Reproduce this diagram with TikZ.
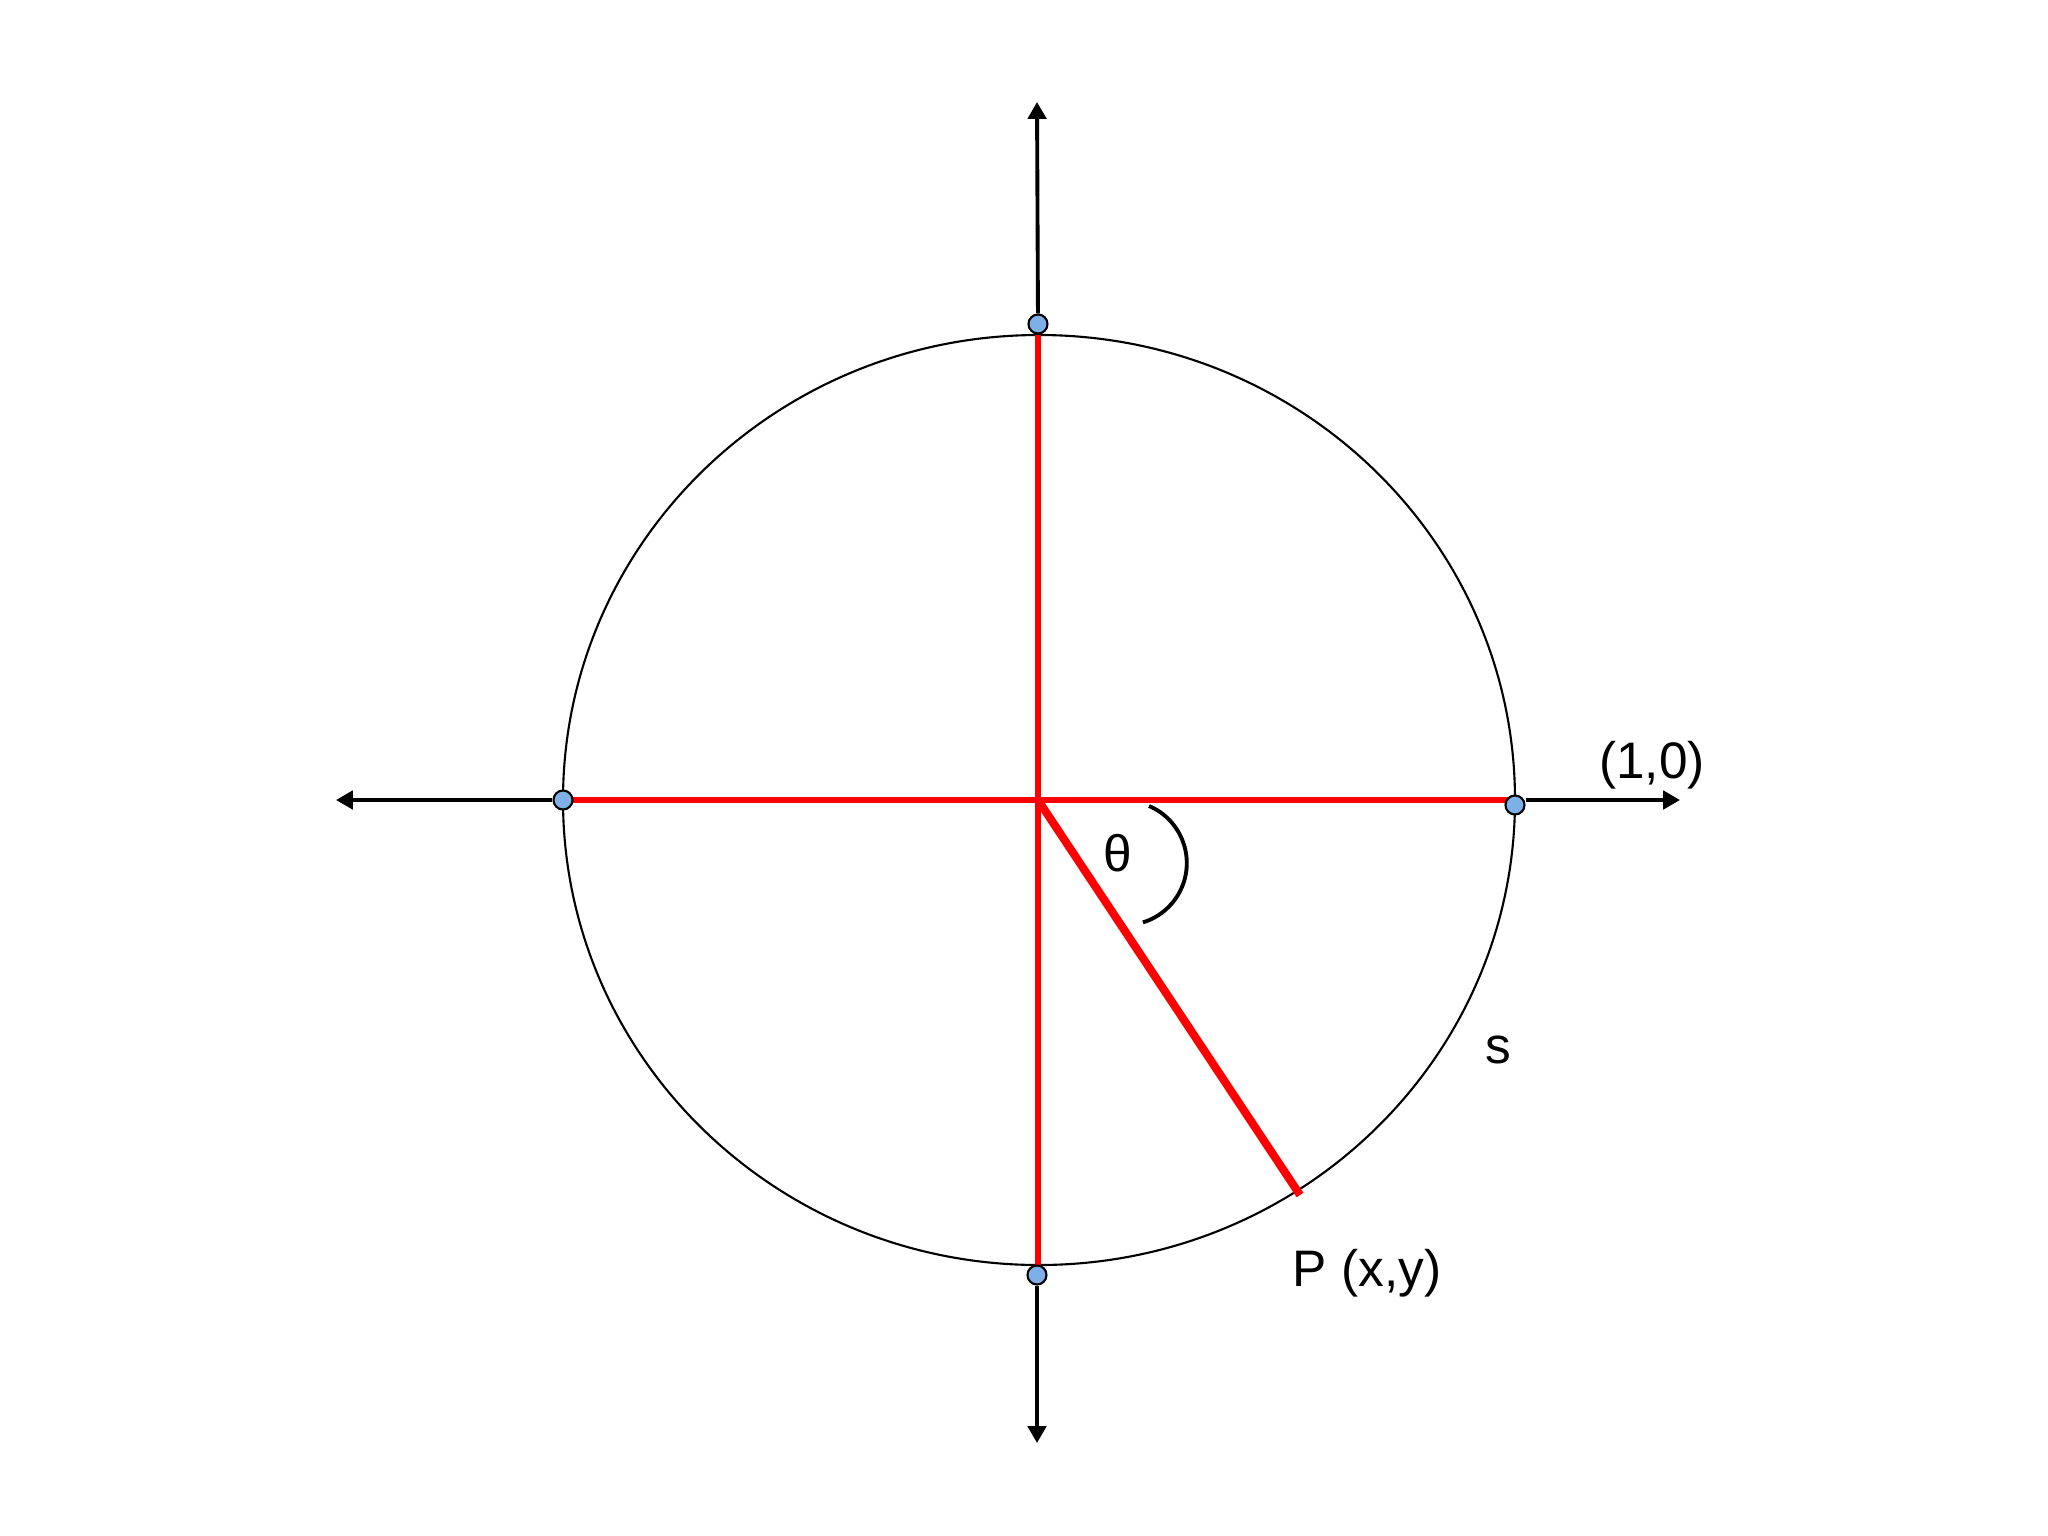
\documentclass[tikz,border=0pt]{standalone}
\usepackage{fontspec}
\setmainfont{Liberation Sans}
\usetikzlibrary{arrows.meta}
\definecolor{dotblue}{HTML}{7EB0E8}
\definecolor{redline}{HTML}{FF0000}
\tikzset{
  axisline/.style={line width=1.1pt, -{Triangle[length=4.8pt,width=5.2pt]}},
  redseg/.style={draw=redline, line width=1.8pt},
  reddiag/.style={draw=redline, line width=2.3pt},
  circline/.style={line width=0.6pt},
  bdot/.style={circle, draw=black, line width=0.6pt, fill=dotblue, minimum size=0.19cm, inner sep=0pt},
  lbl/.style={font=\fontsize{14.6}{17}\selectfont, inner sep=0pt}
}
\begin{document}
\begin{tikzpicture}[x=0.01cm,y=-0.01cm]
\useasboundingbox[fill=white] (0,0) rectangle (2048,1536);
% circle
\draw[circline] (1039,800) ellipse [x radius=476, y radius=465];
% key points
\coordinate (O) at (1038,800);
\coordinate (T) at (1038,335);
\coordinate (B) at (1038,1265);
\coordinate (L) at (563,800);
\coordinate (R) at (1513,800);
\coordinate (P) at (1300,1195);
\coordinate (tipT) at (1037,102);
\coordinate (tipB) at (1037,1443);
\coordinate (tipL) at (336,800);
\coordinate (tipR) at (1680,800);
% red radii
\draw[redseg] (T) -- (B);
\draw[redseg] (L) -- (R);
\draw[reddiag] (O) -- (P);
% dots
\node[bdot] (dT) at (1038,324) {};
\node[bdot] (dB) at (1037,1275) {};
\node[bdot] (dL) at (563,800) {};
\node[bdot] (dR) at (1515,805) {};
% axes
\draw[axisline] (dT) -- (tipT);
\draw[axisline] (dB) -- (tipB);
\draw[axisline] (dL) -- (tipL);
\draw[axisline] (dR.east |- tipR) -- (tipR);
% angle arc
\coordinate (A0) at (1149,806);
\draw[line width=1.1pt] (A0) arc[start angle=-67, end angle=73, radius=62];
% labels
\node[lbl] (theta) at (1118,853) {θ};
\node[lbl] (one) at (1652,765) {(1,0)};
\node[lbl] (s) at (1498,1050) {s};
\node[lbl] (pxy) at (1367,1273) {P (x,y)};
\end{tikzpicture}
\end{document}
